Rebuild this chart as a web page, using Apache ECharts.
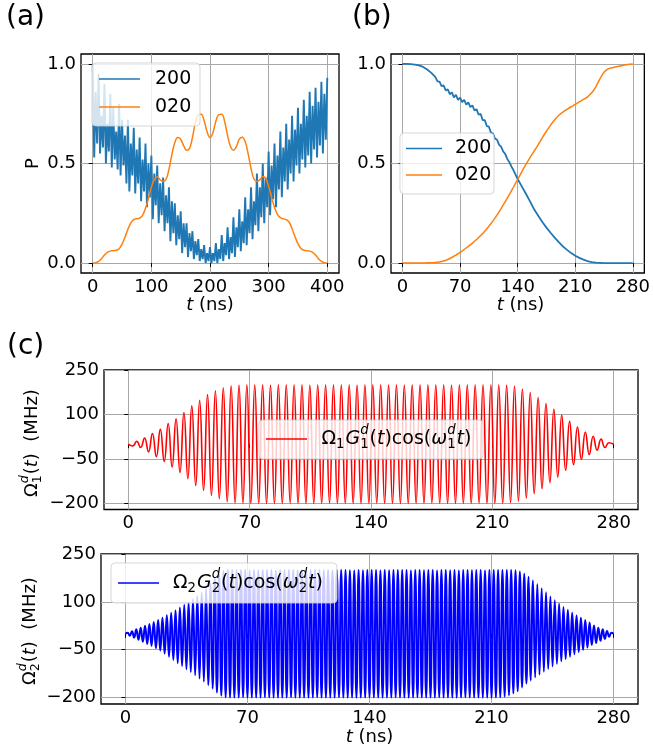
<!DOCTYPE html>
<html>
<head>
<meta charset="utf-8">
<script src="https://cdn.jsdelivr.net/npm/echarts@6.0.0/dist/echarts.min.js"></script>
<style>
  html, body { margin: 0; padding: 0; background: #fff; }
  #chart { width: 653px; height: 750px; }
</style>
</head>
<body>
<div id="chart"></div>
<script>
// ---------- tick labels ----------
const ticksA_x = [0, 100, 200, 300, 400];
const ticksP_y = [0, 0.5, 1.0];
const ticksT_x = [0, 70, 140, 210, 280];
const ticksC_y = [-200, -50, 100, 250];

// ---------- panel (a): populations over 400 ns ----------
const aTime = [
  0,2.5,5,7.5,10,12.5,15,17.5,
  20,22.5,25,27.5,30,32.5,35,37.5,
  40,42.5,45,47.5,50,52.5,55,57.5,
  60,62.5,65,67.5,70,72.5,75,77.5,
  80,82.5,85,87.5,90,92.5,95,97.5,
  100,102.5,105,107.5,110,112.5,115,117.5,
  120,122.5,125,127.5,130,132.5,135,137.5,
  140,142.5,145,147.5,150,152.5,155,157.5,
  160,162.5,165,167.5,170,172.5,175,177.5,
  180,182.5,185,187.5,190,192.5,195,197.5,
  200,202.5,205,207.5,210,212.5,215,217.5,
  220,222.5,225,227.5,230,232.5,235,237.5,
  240,242.5,245,247.5,250,252.5,255,257.5,
  260,262.5,265,267.5,270,272.5,275,277.5,
  280,282.5,285,287.5,290,292.5,295,297.5,
  300,302.5,305,307.5,310,312.5,315,317.5,
  320,322.5,325,327.5,330,332.5,335,337.5,
  340,342.5,345,347.5,350,352.5,355,357.5,
  360,362.5,365,367.5,370,372.5,375,377.5,
  380,382.5,385,387.5,390,392.5,395,397.5,
  400
];
const aPop200 = [
  1.00,0.53,0.86,0.60,0.95,0.55,0.74,0.58,
  0.90,0.50,0.70,0.56,0.85,0.48,0.78,0.52,
  0.66,0.47,0.80,0.44,0.72,0.49,0.64,0.40,
  0.72,0.36,0.60,0.44,0.68,0.35,0.57,0.40,
  0.63,0.31,0.52,0.36,0.60,0.28,0.50,0.33,
  0.54,0.22,0.45,0.29,0.49,0.20,0.40,0.24,
  0.43,0.16,0.34,0.20,0.38,0.11,0.31,0.15,
  0.30,0.09,0.24,0.12,0.26,0.05,0.20,0.08,
  0.20,0.03,0.15,0.06,0.16,0.02,0.11,0.04,
  0.12,0.01,0.07,0.02,0.09,0.00,0.05,0.01,
  0.08,0.00,0.05,0.01,0.10,0.00,0.07,0.02,
  0.14,0.01,0.10,0.04,0.18,0.02,0.13,0.05,
  0.23,0.03,0.18,0.08,0.27,0.06,0.21,0.10,
  0.33,0.09,0.27,0.15,0.38,0.12,0.31,0.19,
  0.45,0.16,0.38,0.23,0.50,0.20,0.43,0.28,
  0.56,0.24,0.49,0.32,0.60,0.28,0.54,0.37,
  0.66,0.33,0.58,0.41,0.70,0.37,0.62,0.45,
  0.74,0.41,0.67,0.49,0.78,0.45,0.70,0.52,
  0.82,0.48,0.74,0.54,0.86,0.50,0.79,0.57,
  0.88,0.53,0.81,0.59,0.91,0.55,0.85,0.62,
  0.93
];
const aTime5 = [
  0,5,10,15,20,25,30,35,40,45,50,55,60,65,70,75,80,85,90,95,
  100,105,110,115,120,125,130,135,140,145,150,155,160,165,170,175,180,185,190,195,
  200,205,210,215,220,225,230,235,240,245,250,255,260,265,270,275,280,285,290,295,
  300,305,310,315,320,325,330,335,340,345,350,355,360,365,370,375,380,385,390,395,
  400
];
const aPop020 = [
  0.000,0.002,0.008,0.022,0.040,0.054,0.060,0.062,0.064,0.072,
  0.095,0.130,0.170,0.202,0.218,0.222,0.226,0.240,0.275,0.325,
  0.380,0.420,0.433,0.418,0.410,0.420,0.470,0.545,0.605,0.630,
  0.622,0.590,0.567,0.575,0.630,0.705,0.745,0.748,0.715,0.660,
  0.630,0.655,0.712,0.746,0.748,0.710,0.640,0.585,0.567,0.585,
  0.622,0.632,0.610,0.550,0.475,0.422,0.410,0.418,0.435,0.425,
  0.385,0.330,0.280,0.245,0.228,0.222,0.218,0.205,0.172,0.132,
  0.097,0.073,0.064,0.062,0.060,0.054,0.040,0.022,0.008,0.002,
  0.000
];

// ---------- panel (b): populations over 280 ns ----------
const bTime200 = [
  0,5,10,15,20,25,30,35,
  40,42.5,45,47.5,50,52.5,55,57.5,60,62.5,65,67.5,70,72.5,75,77.5,
  80,82.5,85,87.5,90,92.5,95,97.5,100,102.5,105,107.5,110,112.5,115,117.5,
  120,122.5,125,127.5,130,132.5,135,
  140,145,150,155,160,165,170,175,180,185,190,195,200,205,210,
  215,220,225,230,235,240,245,250,255,260,265,270,275,280
];
const bPop200 = [
  1.000,1.000,0.999,0.997,0.993,0.985,0.972,0.955,
  0.934,0.913,0.911,0.889,0.892,0.867,0.873,0.848,0.857,0.832,0.845,0.820,0.831,0.808,0.820,0.796,
  0.807,0.783,0.792,0.766,0.773,0.745,0.749,0.718,0.718,0.688,0.685,0.655,0.650,0.625,0.619,0.594,
  0.583,0.560,0.547,0.522,0.506,0.484,0.466,
  0.422,0.385,0.348,0.310,0.270,0.238,0.206,0.178,0.152,0.128,0.105,0.084,0.066,0.050,0.037,
  0.026,0.017,0.010,0.005,0.002,0.001,0,0,0,0,0,0,0,0
];
const bTime020 = [
  0,5,10,15,20,25,30,35,40,45,50,55,60,65,70,75,80,85,90,95,
  100,105,110,115,120,125,130,135,140,145,150,155,160,165,170,175,180,185,190,195,
  200,205,210,215,220,225,230,235,240,245,250,255,260,265,270,275,280
];
const bPop020 = [
  0,0,0,0,0,0.0005,0.001,0.0015,0.003,0.005,
  0.010,0.018,0.028,0.040,0.053,0.068,0.084,0.100,0.118,0.138,
  0.160,0.185,0.212,0.242,0.275,0.310,0.345,0.382,0.420,0.458,
  0.495,0.530,0.562,0.595,0.630,0.662,0.693,0.720,0.742,0.758,
  0.772,0.785,0.797,0.810,0.822,0.835,0.855,0.885,0.925,0.958,
  0.975,0.981,0.986,0.990,0.995,0.998,1.000
];

// ---------- panel (c): drive 1, extrema of the carrier (MHz) ----------
const cTime1 = [
  0,2.58,
  4.85,7.12,9.39,11.66,13.93,16.20,18.47,20.74,
  23.01,25.28,27.55,29.82,32.09,34.36,36.63,38.90,
  41.17,43.44,45.71,47.98,50.25,52.52,54.79,57.06,
  59.33,61.60,63.87,66.14,68.41,70.68,72.95,75.22,
  77.49,79.76,82.03,84.30,86.57,88.84,91.11,93.38,
  95.65,97.92,100.19,102.46,104.73,107.00,109.27,111.54,
  113.81,116.08,118.35,120.62,122.89,125.16,127.43,129.70,
  131.97,134.24,136.51,138.78,141.05,143.32,145.59,147.86,
  150.13,152.40,154.67,156.94,159.21,161.48,163.75,166.02,
  168.29,170.56,172.83,175.10,177.37,179.64,181.91,184.18,
  186.45,188.72,190.99,193.26,195.53,197.80,200.07,202.34,
  204.61,206.88,209.15,211.42,213.69,215.96,218.23,220.50,
  222.77,225.04,227.31,229.58,231.85,234.12,236.39,238.66,
  240.93,243.20,245.47,247.74,250.01,252.28,254.55,256.82,
  259.09,261.36,263.63,265.90,268.17,270.44,272.71,274.98,
  277.25,280
];
const cDrive1 = [
  0,-6,
  10,-11,21,-26,36,-42,50,-58,
  70,-77,86,-95,107,-116,129,-139,
  148,-156,167,-173,180,-184,190,-194,
  197,-198,199,-199,200,-200,200,-200,
  200,-200,199,-200,200,-200,200,-199,
  200,-200,200,-200,199,-200,200,-200,
  200,-199,200,-200,200,-200,200,-200,
  199,-200,200,-200,200,-199,200,-200,
  200,-200,200,-200,199,-200,200,-200,
  200,-200,200,-199,200,-200,200,-200,
  199,-200,200,-200,200,-200,200,-199,
  200,-200,200,-200,200,-200,199,-197,
  196,-192,186,-182,174,-167,157,-150,
  137,-130,118,-111,98,-88,77,-69,
  58,-51,41,-35,27,-20,17,-11,
  5,0
];

// ---------- panel (c): drive 2, extrema of the carrier (MHz) ----------
const cTime2 = [
  0,1.25,2.5,3.75,5,6.25,7.5,8.75,
  10,11.25,12.5,13.75,15,16.25,17.5,18.75,
  20,21.25,22.5,23.75,25,26.25,27.5,28.75,
  30,31.25,32.5,33.75,35,36.25,37.5,38.75,
  40,41.25,42.5,43.75,45,46.25,47.5,48.75,
  50,51.25,52.5,53.75,55,56.25,57.5,58.75,
  60,61.25,62.5,63.75,65,66.25,67.5,68.75,
  70,71.25,72.5,73.75,75,76.25,77.5,78.75,
  80,81.25,82.5,83.75,85,86.25,87.5,88.75,
  90,91.25,92.5,93.75,95,96.25,97.5,98.75,
  100,101.25,102.5,103.75,105,106.25,107.5,108.75,
  110,111.25,112.5,113.75,115,116.25,117.5,118.75,
  120,121.25,122.5,123.75,125,126.25,127.5,128.75,
  130,131.25,132.5,133.75,135,136.25,137.5,138.75,
  140,141.25,142.5,143.75,145,146.25,147.5,148.75,
  150,151.25,152.5,153.75,155,156.25,157.5,158.75,
  160,161.25,162.5,163.75,165,166.25,167.5,168.75,
  170,171.25,172.5,173.75,175,176.25,177.5,178.75,
  180,181.25,182.5,183.75,185,186.25,187.5,188.75,
  190,191.25,192.5,193.75,195,196.25,197.5,198.75,
  200,201.25,202.5,203.75,205,206.25,207.5,208.75,
  210,211.25,212.5,213.75,215,216.25,217.5,218.75,
  220,221.25,222.5,223.75,225,226.25,227.5,228.75,
  230,231.25,232.5,233.75,235,236.25,237.5,238.75,
  240,241.25,242.5,243.75,245,246.25,247.5,248.75,
  250,251.25,252.5,253.75,255,256.25,257.5,258.75,
  260,261.25,262.5,263.75,265,266.25,267.5,268.75,
  270,271.25,272.5,273.75,275,276.25,277.5,278.75,
  280
];
const cDrive2 = [
  0,3,-6,8,-12,14,-19,19,
  -25,25,-32,31,-38,37,-45,43,
  -52,50,-62,58,-72,66,-82,74,
  -92,82,-101,91,-111,99,-120,108,
  -130,118,-140,129,-150,142,-161,157,
  -172,174,-184,189,-194,197,-199,200,
  -200,200,-200,199,-200,200,-199,200,
  -200,198,-200,200,-200,199,-200,200,
  -199,200,-200,200,-200,198,-200,200,
  -200,199,-200,200,-199,200,-200,199,
  -200,200,-200,198,-200,200,-200,200,
  -199,200,-200,199,-200,200,-200,198,
  -200,200,-199,200,-200,200,-200,199,
  -200,198,-200,200,-200,199,-200,200,
  -199,200,-200,200,-200,198,-200,200,
  -200,199,-200,200,-199,200,-200,200,
  -200,200,-200,198,-200,200,-199,200,
  -200,199,-200,200,-200,200,-200,198,
  -199,200,-200,200,-200,199,-200,200,
  -200,198,-200,200,-199,200,-200,199,
  -200,200,-200,200,-200,198,-200,200,
  -200,200,-200,200,-199,200,-197,200,
  -193,200,-187,199,-180,195,-168,188,
  -156,179,-146,167,-137,156,-128,143,
  -119,130,-110,117,-102,105,-94,94,
  -86,84,-79,75,-72,66,-64,57,
  -57,50,-50,43,-43,35,-35,26,
  -29,19,-22,14,-16,9,-9,3,
  0
];

// ---------- styling ----------
const FONT = 'DejaVu Sans';
const C_BLUE = '#1f77b4';
const C_ORANGE = '#ff7f0e';
const C_RED = '#ff0000';
const C_PURE_BLUE = '#0000ff';
const GRID_COLOR = '#a8a8a8';

const pairs = (xs, ys) => xs.map((x, i) => [x, ys[i]]);
const fmtInt = v => (v < 0 ? '\u2212' + Math.abs(v) : String(v));
const fmtOne = v => Number(v).toFixed(1);

function valueAxis(gridIndex, min, max, ticks, fmt) {
  return {
    type: 'value', gridIndex, min, max,
    axisLine: { show: false },
    axisTick: { show: true, length: 4, inside: false, customValues: ticks,
                lineStyle: { color: '#000', width: 1 } },
    axisLabel: { customValues: ticks, formatter: fmt, color: '#000',
                 fontSize: 18, fontFamily: FONT, margin: 5 },
    splitLine: { show: true, lineStyle: { color: GRID_COLOR, width: 1 } }
  };
}

function lineSeries(idx, data, color, smooth, z, width) {
  return {
    type: 'line', xAxisIndex: idx, yAxisIndex: idx, data,
    showSymbol: false, symbol: 'none', smooth,
    lineStyle: { color, width: width || 1.5 }, z: z || 2,
    animation: false, silent: true
  };
}

// ---------- math-style text built from pieces ----------
const measureCtx = document.createElement('canvas').getContext('2d');
function textWidth(s, size, italic) {
  measureCtx.font = (italic ? 'italic ' : '') + size + 'px "' + FONT + '"';
  return measureCtx.measureText(s).width;
}
function textEl(s, x, y, size, italic, z) {
  const font = (italic ? 'italic ' : '') + size + 'px "' + FONT + '"';
  return {
    type: 'text', x, y, z: z || 110, silent: true,
    style: { text: s, font, fill: '#000', align: 'left', textAlign: 'left',
             verticalAlign: 'middle', textVerticalAlign: 'middle' }
  };
}
// parts: strings (upright), {t, it} runs, or {sub, sup} stacked scripts
function mathRun(parts, size) {
  const small = size * 0.7;
  const kids = [];
  let x = 0;
  parts.forEach(p => {
    if (typeof p === 'string') p = { t: p };
    if (p.t !== undefined) {
      kids.push({ s: p.t, x, y: 0, size, it: !!p.it });
      x += textWidth(p.t, size, !!p.it);
    } else {
      const ws = p.sub ? textWidth(p.sub, small, false) : 0;
      const wp = p.sup ? textWidth(p.sup, small, true) : 0;
      if (p.sub) kids.push({ s: p.sub, x, y: size * 0.30, size: small, it: false });
      if (p.sup) kids.push({ s: p.sup, x, y: -size * 0.42, size: small, it: true });
      x += Math.max(ws, wp) + size * 0.05;
    }
  });
  return { kids, width: x };
}
// anchor: 'left' starts at (x, y); 'center' centres the run on (x, y)
function mathText(parts, size, x, y, opts) {
  opts = opts || {};
  const run = mathRun(parts, size);
  const shift = opts.anchor === 'center' ? -run.width / 2 : 0;
  return {
    type: 'group', x, y, rotation: opts.rotation || 0, z: 110,
    children: run.kids.map(k => textEl(k.s, k.x + shift, k.y, k.size, k.it, 110))
  };
}

function legendFrame(x, y, w, h) {
  return { type: 'rect', z: 100, silent: true,
           shape: { x, y, width: w, height: h, r: 4 },
           style: { fill: 'rgba(255,255,255,0.8)', stroke: 'rgba(204,204,204,0.8)', lineWidth: 1 } };
}
function legendStroke(x1, x2, y, color) {
  return { type: 'line', z: 105, silent: true,
           shape: { x1, y1: y, x2, y2: y },
           style: { stroke: color, lineWidth: 1.5 } };
}

const LEG = 19;      // legend font size
const LAB = 18;      // axis title font size
const PANEL = 28;    // panel letter font size

const graphics = [
  // panel letters
  textEl('(a)', 6, 18, PANEL, false),
  textEl('(b)', 352, 18, PANEL, false),
  textEl('(c)', 7, 347, PANEL, false),

  // axis titles
  mathText(['P'], LAB, 33, 163.5, { anchor: 'center', rotation: Math.PI / 2 }),
  mathText([{ t: 't', it: true }, ' (ns)'], LAB, 210, 305, { anchor: 'center' }),
  mathText([{ t: 't', it: true }, ' (ns)'], LAB, 520.5, 305, { anchor: 'center' }),
  mathText([{ t: 't', it: true }, ' (ns)'], LAB, 369.5, 737, { anchor: 'center' }),
  mathText(['\u03A9', { sub: '1', sup: 'd' }, '(', { t: 't', it: true }, ')  (MHz)'],
           18, 32, 443, { anchor: 'center', rotation: Math.PI / 2 }),
  mathText(['\u03A9', { sub: '2', sup: 'd' }, '(', { t: 't', it: true }, ')  (MHz)'],
           18, 30, 631, { anchor: 'center', rotation: Math.PI / 2 }),

  // legend (a)
  legendFrame(92, 63, 108, 63),
  legendStroke(99, 140, 79, C_BLUE),
  legendStroke(99, 140, 107, C_ORANGE),
  textEl('200', 155, 79, LEG, false),
  textEl('020', 155, 107, LEG, false),

  // legend (b)
  legendFrame(400, 133, 94, 61),
  legendStroke(406, 442, 148.5, C_BLUE),
  legendStroke(406, 442, 175, C_ORANGE),
  textEl('200', 455, 148.5, LEG, false),
  textEl('020', 455, 175, LEG, false),

  // legend (c) upper
  legendFrame(259, 420, 224, 39),
  legendStroke(266, 307, 439, C_RED),
  mathText(['\u03A9', { sub: '1' }, { t: 'G', it: true }, { sub: '1', sup: 'd' },
            '(', { t: 't', it: true }, ')cos(', { t: '\u03C9', it: true },
            { sub: '1', sup: 'd' }, { t: 't', it: true }, ')'], LEG, 321.5, 439),

  // legend (c) lower
  legendFrame(111, 563, 226, 40),
  legendStroke(118, 159, 583, C_PURE_BLUE),
  mathText(['\u03A9', { sub: '2' }, { t: 'G', it: true }, { sub: '2', sup: 'd' },
            '(', { t: 't', it: true }, ')cos(', { t: '\u03C9', it: true },
            { sub: '2', sup: 'd' }, { t: 't', it: true }, ')'], LEG, 173, 583)
];

const gridBox = { show: true, borderColor: '#000', borderWidth: 1.3, backgroundColor: 'transparent', containLabel: false };

const option = {
  backgroundColor: '#fff',
  animation: false,
  textStyle: { fontFamily: FONT },
  grid: [
    Object.assign({ left: 81, top: 54, width: 258, height: 219 }, gridBox),
    Object.assign({ left: 391, top: 54, width: 259, height: 219 }, gridBox),
    Object.assign({ left: 104, top: 370, width: 534, height: 139.5 }, gridBox),
    Object.assign({ left: 101, top: 554, width: 537, height: 150 }, gridBox)
  ],
  xAxis: [
    valueAxis(0, -20, 420, ticksA_x, v => String(v)),
    valueAxis(1, -14, 294, ticksT_x, v => String(v)),
    valueAxis(2, -14, 294, ticksT_x, v => String(v)),
    valueAxis(3, -14, 294, ticksT_x, v => String(v))
  ],
  yAxis: [
    valueAxis(0, -0.05, 1.05, ticksP_y, fmtOne),
    valueAxis(1, -0.05, 1.05, ticksP_y, fmtOne),
    valueAxis(2, -220, 250, ticksC_y, fmtInt),
    valueAxis(3, -220, 250, ticksC_y, fmtInt)
  ],
  series: [
    lineSeries(0, pairs(aTime, aPop200), C_BLUE, false, 2, 1.9),
    lineSeries(0, pairs(aTime5, aPop020), C_ORANGE, 0.4, 3, 1.5),
    lineSeries(1, pairs(bTime200, bPop200), C_BLUE, false, 2, 1.8),
    lineSeries(1, pairs(bTime020, bPop020), C_ORANGE, 0.4, 3, 1.5),
    lineSeries(2, pairs(cTime1, cDrive1), C_RED, 0.5, 2, 1.6),
    lineSeries(3, pairs(cTime2, cDrive2), C_PURE_BLUE, 0.5, 2, 2.0)
  ],
  graphic: { elements: graphics }
};

const chart = echarts.init(document.getElementById('chart'), null, { renderer: 'canvas', width: 653, height: 750 });
chart.setOption(option);
</script>
</body>
</html>
